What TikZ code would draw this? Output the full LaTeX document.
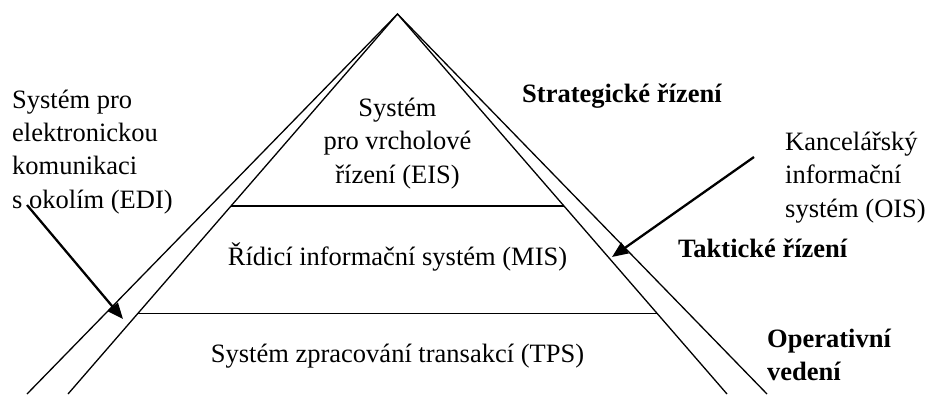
\documentclass[tikz,border=0pt]{standalone}
\usepackage{fontspec}
\setmainfont{Liberation Serif}
\usetikzlibrary{arrows.meta,calc}
\begin{document}
\begin{tikzpicture}[x=1pt,y=-1pt,
  edge/.style={line width=1.3pt,line join=miter},
  arr/.style={line width=2.3pt,-{Triangle[length=16pt,width=13pt]}},
  txt/.style={inner sep=0pt,font=\fontsize{26.5}{33.3}\selectfont},
  bld/.style={inner sep=0pt,font=\fontsize{26.5}{33}\selectfont\bfseries}]
\useasboundingbox (0,0) rectangle (928,394);
\coordinate (apex) at (397.5,14);
\coordinate (LO) at (27,394);
\coordinate (LI) at (68,394);
\coordinate (RI) at (727,394);
\coordinate (RO) at (767,394);
\draw[edge] (LO) -- (apex) -- (RO);
\draw[edge] (LI) -- (apex) -- (RI);
\coordinate (a1) at ($(apex)!0.505!(LI)$);
\coordinate (b1) at ($(apex)!0.505!(RI)$);
\coordinate (a2) at ($(apex)!0.789!(LI)$);
\coordinate (b2) at ($(apex)!0.789!(RI)$);
\draw[edge] (a1) -- (b1);
\draw[edge] (a2) -- (b2);
% texts
\node[txt,align=center,anchor=base] (eis) at (397.5,183) {Systém\\pro vrcholové\\řízení (EIS)};
\node[txt,anchor=base] (mis) at (397.5,265) {Řídicí informační systém (MIS)};
\node[txt,anchor=base] (tps) at (397.5,362) {Systém zpracování transakcí (TPS)};
\node[txt,align=left,anchor=base west] (edi) at (12,208) {Systém pro\\elektronickou\\komunikaci\\s okolím (EDI)};
\node[txt,align=left,anchor=base west] (ois) at (785,217) {Kancelářský\\informační\\systém (OIS)};
\node[bld,anchor=base west] (str) at (522,102) {Strategické řízení};
\node[bld,anchor=base west] (tak) at (678,257) {Taktické řízení};
\node[bld,align=left,anchor=base west] (ope) at (767,380) {Operativní\\vedení};
% arrows
\coordinate (ediS) at (27,205);
\coordinate (ediT) at (123,319);
\coordinate (oisS) at (754,157);
\coordinate (oisT) at (612,257);
\draw[arr] (ediS) -- (ediT);
\draw[arr] (oisS) -- (oisT);
\end{tikzpicture}
\end{document}
